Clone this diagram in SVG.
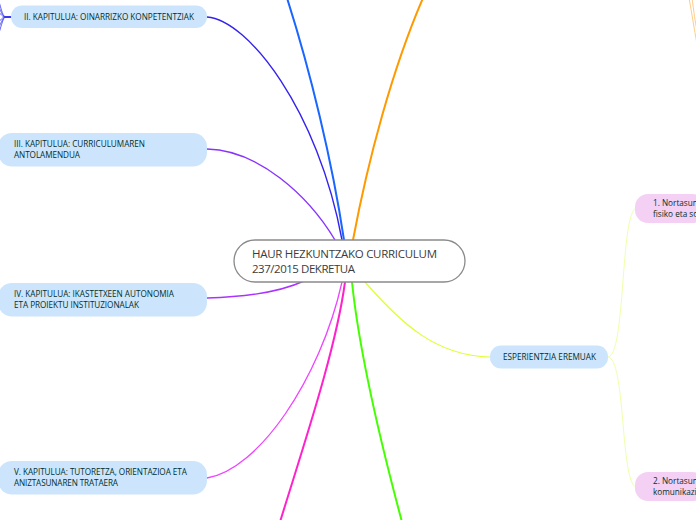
<svg xmlns="http://www.w3.org/2000/svg" width="696" height="520" viewBox="0 0 696 520">
<style>
.n{fill:#cce5fd;stroke:none}
.p{fill:#f4d0f4;stroke:none}
.t{font-family:"Open Sans","Noto Sans",sans-serif;font-size:8.2px;fill:#03302a}
.c{fill:none;stroke-linecap:round}
</style>
<rect width="696" height="520" fill="#fff"/>
<g id="connectors">
<g stroke="#3a3aee" stroke-width="0.8" fill="none">
<path d="M6,17 C3,17 2,12 -2,-2"/>
<path d="M6,17 C3,17 2,14 -2,5"/>
<path d="M6,17 C3,17 2,16 -2,11"/>
<path d="M6,17 C3,17 2,18 -2,23"/>
<path d="M6,17 C3,17 2,21 -2,29"/>
<path d="M6,17 C3,17 2,24 -2,36"/>
</g>
<path class="c" d="M6,17 L11,17" stroke="#3a3aee" stroke-width="1.8"/>
<path class="c" d="M207,17 C248,20 318,110 342,240" stroke="#3322ee" stroke-width="1.4"/>
<path class="c" d="M344,240 C332,160 310,70 287,-2" stroke="#1a66ff" stroke-width="2"/>
<path class="c" d="M353,240 C368,160 392,70 423,-2" stroke="#ff9900" stroke-width="2"/>
<path class="c" d="M207,149 C258,150 308,195 335,240" stroke="#8833ff" stroke-width="1.4"/>
<path class="c" d="M207,298 C245,297 280,292 304,281" stroke="#aa33ff" stroke-width="1.4"/>
<path class="c" d="M207,478 C258,470 320,380 342,282" stroke="#ee44ff" stroke-width="1.3"/>
<path class="c" d="M345,282 C336,350 302,450 280,522" stroke="#ff22cc" stroke-width="2"/>
<path class="c" d="M352,282 C360,360 384,455 402,522" stroke="#44ff00" stroke-width="2"/>
<path class="c" d="M365,282 C400,322 435,356 490,357" stroke="#ddff33" stroke-width="1.2"/>
<path class="c" d="M608,357 C626,357 620,212 636,208" stroke="#eeffaa" stroke-width="1"/>
<path class="c" d="M608,357 C626,357 620,484 636,487" stroke="#eeffaa" stroke-width="1"/>
<path class="c" d="M689,-2 C692,14 694,28 697,44" stroke="#ffcc88" stroke-width="1"/>
<path class="c" d="M692,-2 C694,12 695,22 697,30" stroke="#ffcc88" stroke-width="1"/>
</g>
<g id="central">
<rect x="234" y="240" width="231" height="42" rx="21" fill="#fff" stroke="#8a8a8a" stroke-width="1.3"/>
<text x="252" y="258" font-family="'Open Sans','Noto Sans',sans-serif" font-size="11.5" fill="#3c3c3c" textLength="185">HAUR HEZKUNTZAKO CURRICULUM</text>
<text x="252" y="273" font-family="'Open Sans','Noto Sans',sans-serif" font-size="11.5" fill="#3c3c3c" textLength="103">237/2015 DEKRETUA</text>
</g>
<g id="node-ii">
<rect class="n" x="11" y="5.5" width="196" height="22.5" rx="11"/>
<text class="t" x="24" y="20" textLength="170">II. KAPITULUA: OINARRIZKO KONPETENTZIAK</text>
</g>
<g id="node-iii">
<rect class="n" x="-2" y="133" width="209" height="33.5" rx="14"/>
<text class="t" x="14" y="147" textLength="131">III. KAPITULUA: CURRICULUMAREN</text>
<text class="t" x="14" y="158" textLength="66">ANTOLAMENDUA</text>
</g>
<g id="node-iv">
<rect class="n" x="-2" y="283" width="209" height="33.5" rx="14"/>
<text class="t" x="14" y="297" textLength="160">IV. KAPITULUA: IKASTETXEEN AUTONOMIA</text>
<text class="t" x="14" y="308" textLength="125">ETA PROIEKTU INSTITUZIONALAK</text>
</g>
<g id="node-v">
<rect class="n" x="-2" y="461" width="209" height="33.5" rx="14"/>
<text class="t" x="14" y="475" textLength="173">V. KAPITULUA: TUTORETZA, ORIENTAZIOA ETA</text>
<text class="t" x="14" y="486" textLength="104">ANIZTASUNAREN TRATAERA</text>
</g>
<g id="node-esperientzia">
<rect class="n" x="490" y="345.5" width="118" height="23" rx="11"/>
<text class="t" x="503" y="360" textLength="93">ESPERIENTZIA EREMUAK</text>
</g>
<g id="node-1">
<rect class="p" x="635" y="194" width="70" height="29" rx="13"/>
<text class="t" x="653" y="206">1. Nortasun</text>
<text class="t" x="653" y="217">fisiko eta so</text>
</g>
<g id="node-2">
<rect class="p" x="635" y="472" width="70" height="29" rx="13"/>
<text class="t" x="653" y="484">2. Nortasun</text>
<text class="t" x="653" y="495">komunikazi</text>
</g>
</svg>
